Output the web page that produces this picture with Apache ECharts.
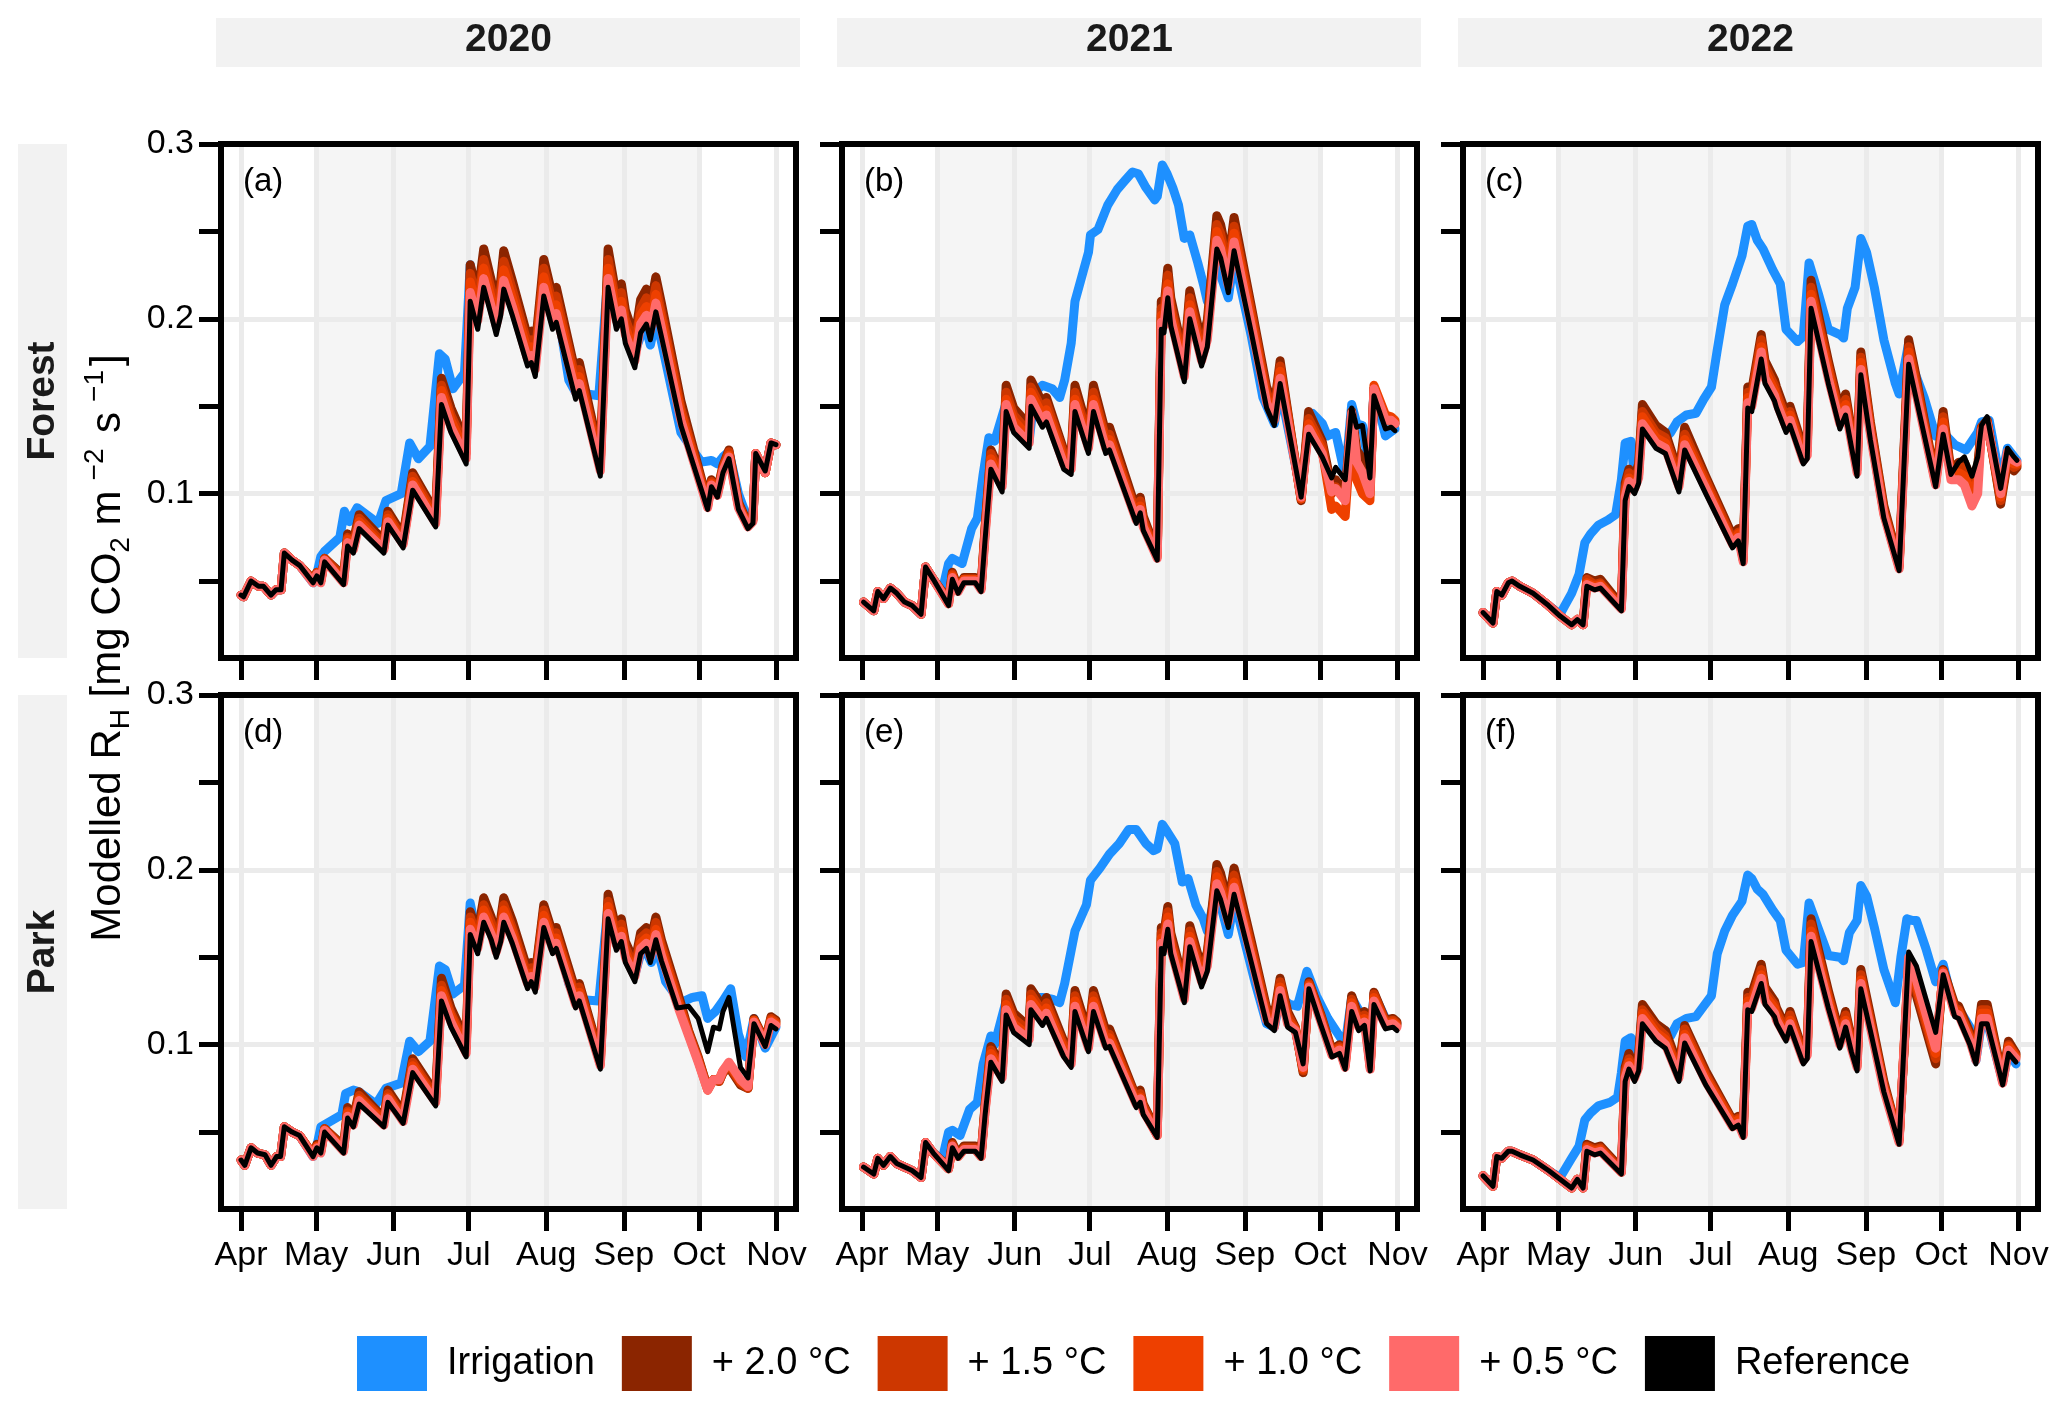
<!DOCTYPE html>
<html><head><meta charset="utf-8">
<script src="https://cdn.jsdelivr.net/npm/echarts/dist/echarts.min.js"></script>
<style>html,body{margin:0;padding:0;background:#fff}#c{width:2067px;height:1404px}</style>
</head><body><div id="c"></div>
<script>
// ---- axes / labels ----
const monthDays = [0,30,61,91,122,153,183,214];      // days after 1 April
const monthLabels = ['Apr','May','Jun','Jul','Aug','Sep','Oct','Nov'];
const yTicks = [0.05,0.1,0.15,0.2,0.25,0.3];
const yLabels = [0.1,0.2,0.3];
const yGrid = [0.1,0.2];
const shadeDays = [30,183];                           // May 1 .. Oct 1
const years = ['2020','2021','2022'];
const sites = ['Forest','Park'];
const panelTags = ['(a)','(b)','(c)','(d)','(e)','(f)'];
const seriesNames = ['Irrigation','+ 2.0 °C','+ 1.5 °C','+ 1.0 °C','+ 0.5 °C','Reference'];
const seriesColors = ['#1E90FF','#8B2500','#CD3700','#EE4000','#FF6A6A','#000000'];

// ---- (a) Forest 2020 ----
const aDays = [0,1,4,7,9,12,14,16,17.3,20.4,23.4,28.8,30.3,31.9,33.4,41,42.6,44.9,47.2,57.1,58.7,64.8,68.6,77.8,80.1,83.9,90,91.6,94.6,97,100,102,103.8,105,108.4,114.5,116,117.6,121,124.5,126,133.7,135.2,143.6,146.7,150,152,153.6,157.4,159.7,162,163.6,165.8,168,175.8,186.5,188,190.4,192.6,195,198.8,202.6,204.6,205.7,209.5,211.8,213.8];
const aRef = [.042,.041,.050,.047,.047,.042,.045,.045,.066,.062,.059,.049,.053,.049,.061,.048,.070,.066,.080,.066,.082,.069,.102,.081,.151,.135,.117,.210,.194,.218,.202,.191,.202,.217,.202,.173,.175,.167,.213,.194,.198,.154,.159,.110,.218,.194,.200,.186,.172,.192,.197,.188,.204,.190,.139,.091,.104,.098,.112,.120,.091,.080,.083,.123,.113,.129,.128];
const aW05 = [.042,.041,.050,.047,.047,.042,.045,.045,.066,.062,.059,.049,.054,.049,.062,.049,.072,.068,.082,.068,.084,.071,.105,.083,.155,.138,.120,.215,.199,.223,.207,.196,.207,.222,.207,.177,.179,.171,.218,.199,.203,.158,.163,.113,.223,.199,.205,.191,.176,.197,.202,.193,.209,.195,.142,.092,.105,.099,.113,.121,.092,.081,.084,.123,.112,.129,.128];
const aW10 = [.042,.041,.050,.047,.047,.042,.045,.045,.066,.062,.059,.050,.054,.050,.062,.050,.074,.069,.084,.069,.086,.072,.107,.085,.159,.142,.123,.221,.204,.229,.212,.201,.212,.228,.212,.182,.184,.175,.224,.204,.208,.162,.167,.116,.229,.204,.210,.195,.181,.202,.207,.197,.214,.200,.146,.093,.106,.100,.114,.122,.093,.082,.085,.123,.112,.129,.128];
const aW15 = [.042,.041,.050,.047,.047,.042,.045,.045,.066,.062,.059,.050,.055,.050,.063,.052,.075,.071,.086,.071,.088,.074,.110,.087,.162,.145,.126,.226,.209,.234,.217,.205,.217,.233,.217,.186,.188,.180,.229,.209,.213,.166,.171,.118,.234,.209,.215,.200,.185,.206,.212,.202,.219,.204,.149,.094,.107,.101,.115,.124,.094,.082,.085,.123,.112,.129,.128];
const aW20 = [.042,.041,.050,.047,.047,.042,.045,.045,.066,.062,.059,.051,.055,.051,.063,.053,.077,.073,.088,.073,.090,.076,.112,.089,.166,.149,.129,.231,.213,.240,.222,.210,.222,.239,.222,.190,.193,.184,.234,.213,.218,.169,.175,.121,.240,.213,.220,.205,.189,.211,.217,.207,.224,.209,.153,.095,.108,.102,.116,.125,.095,.083,.086,.123,.112,.129,.128];
const aIrrDays = [0,1,4,7,9,12,14,16,17.3,20.4,23.4,28.8,30.3,31.9,33.4,39.5,41.3,43.3,46.4,54.8,57.9,64,67.4,70.9,75.5,79.3,81.6,84.7,89.3,91.6,94.6,97,100,102,103.8,105,108.4,114.5,116,117.6,121,124.5,126,131,133.7,143,146.7,150,152,153.6,157.4,159.7,162,163.6,165.8,168,175.8,184,188,190.4,192.6,195,198.8,202.6,204.6,205.7,209.5,211.8,213.8];
const aIrr = [.042,.041,.050,.047,.047,.042,.045,.045,.066,.062,.059,.049,.054,.064,.067,.075,.090,.084,.092,.083,.096,.100,.129,.120,.127,.180,.177,.160,.169,.231,.206,.232,.215,.203,.215,.232,.215,.184,.186,.178,.226,.206,.210,.165,.158,.156,.226,.204,.210,.196,.181,.190,.194,.185,.200,.187,.135,.118,.119,.117,.121,.124,.100,.085,.086,.122,.113,.129,.128];

// ---- (b) Forest 2021 ----
const bDays = [0.6,4.7,6.3,8.6,11.3,13.9,17,20,23.6,25.4,28.5,34.6,36.1,38.4,40.7,45.3,47.6,49.2,51.5,56,57.6,60.6,66.8,67.5,72.1,73.7,80.6,83.6,85.1,90.5,92.5,97.4,98.9,109.6,111.2,112.4,118,119.6,120.7,122.2,123.4,128.8,131,135.7,138,141.8,143.3,146.4,148.7,155.6,161.7,164.8,167.1,175.5,178.5,183.9,187.7,189.3,193.1,195.7,197.7,200,203,204.6,209.2,211.5,213];
const bRef = [.038,.033,.044,.040,.046,.043,.038,.036,.031,.058,.051,.036,.051,.043,.049,.049,.044,.074,.114,.101,.147,.135,.126,.150,.138,.141,.114,.111,.147,.123,.147,.123,.125,.083,.089,.079,.062,.194,.192,.212,.196,.164,.200,.173,.184,.240,.235,.215,.239,.192,.149,.139,.163,.098,.134,.121,.109,.115,.108,.149,.138,.139,.109,.156,.137,.138,.136];
const bW05 = [.038,.033,.044,.040,.046,.043,.038,.036,.031,.058,.051,.037,.052,.044,.050,.050,.045,.076,.117,.104,.151,.138,.129,.154,.141,.145,.117,.114,.151,.126,.151,.126,.128,.085,.091,.081,.063,.198,.196,.216,.200,.167,.204,.176,.188,.245,.240,.219,.244,.196,.152,.142,.166,.098,.137,.123,.101,.103,.096,.146,.118,.112,.100,.160,.142,.142,.140];
const bW10 = [.038,.033,.044,.040,.046,.043,.038,.036,.031,.058,.051,.037,.053,.045,.051,.051,.046,.078,.120,.106,.154,.142,.132,.158,.145,.148,.120,.117,.154,.129,.154,.129,.131,.087,.093,.083,.064,.202,.200,.220,.204,.171,.208,.180,.191,.250,.244,.224,.249,.200,.155,.145,.170,.097,.140,.125,.091,.093,.087,.140,.108,.100,.096,.162,.145,.144,.142];
const bW15 = [.038,.033,.044,.040,.046,.043,.038,.036,.031,.058,.051,.038,.054,.045,.051,.051,.046,.080,.123,.109,.158,.145,.135,.161,.148,.152,.123,.119,.158,.132,.158,.132,.134,.089,.096,.085,.065,.206,.204,.225,.208,.174,.212,.183,.195,.254,.249,.228,.253,.204,.158,.147,.173,.097,.143,.128,.100,.104,.097,.145,.118,.112,.100,.160,.143,.143,.141];
const bW20 = [.038,.033,.044,.040,.046,.043,.038,.036,.031,.058,.051,.039,.055,.046,.052,.052,.047,.081,.125,.111,.162,.149,.139,.165,.152,.155,.125,.122,.162,.135,.162,.135,.138,.091,.098,.087,.066,.210,.207,.229,.212,.177,.216,.187,.199,.259,.254,.232,.258,.207,.161,.150,.176,.096,.147,.130,.104,.108,.101,.147,.125,.120,.104,.160,.142,.142,.140];
const bIrrDays = [0.6,4.7,6.3,8.6,11.3,13.9,17,20,23.6,25.4,28.5,32,34.6,36.1,40,43.8,46.1,48.4,50.7,53,57.6,60.6,66.8,69,72.1,76,79,81,83.6,85.1,90.5,91.3,94.3,98.2,102,105,108.1,110.4,113.5,117,118,120,121.9,124.2,126.5,128.8,131,134.2,136.4,138,141.8,143.3,146.4,148.7,155.6,160.2,164.8,167.1,175.5,178.5,180,184,186,189.3,193.1,195.7,197.7,200,203,204.6,209.2,213];
const bIrr = [.038,.033,.044,.040,.046,.043,.038,.036,.031,.058,.051,.044,.060,.063,.060,.080,.086,.111,.132,.130,.152,.140,.130,.158,.162,.160,.155,.165,.186,.210,.238,.248,.251,.265,.274,.279,.284,.283,.275,.268,.270,.288,.283,.275,.265,.246,.248,.232,.220,.210,.238,.225,.212,.235,.190,.155,.140,.160,.100,.140,.146,.140,.133,.135,.110,.151,.140,.139,.110,.160,.133,.137];

// ---- (c) Forest 2022 ----
const cDays = [0,4,5.5,7.5,10.1,11.6,14.7,20,26.2,30.8,35.4,37.7,40,41.5,44.6,46.9,55.3,56.8,58.3,60.6,62.2,63.7,69.1,72.9,78.3,80.6,89,99.7,102,104,105.8,107.4,111.2,112.7,116.5,117.3,121.1,122.7,128,129.6,131.1,138,142.6,144.9,147.2,149.5,151,154.8,160.2,166.3,170.1,172.4,180.9,183.9,187,190.1,192.4,195.4,197.7,199.2,201.5,206.9,209.6,212.2,213.4];
const cRef = [.032,.026,.044,.042,.049,.050,.047,.043,.036,.030,.025,.028,.025,.047,.045,.046,.033,.096,.104,.100,.106,.137,.126,.123,.101,.125,.100,.069,.073,.060,.149,.147,.177,.163,.153,.149,.135,.139,.117,.120,.206,.163,.137,.145,.127,.110,.168,.131,.086,.056,.174,.159,.104,.134,.111,.118,.121,.110,.121,.139,.144,.103,.126,.121,.119];
const cW05 = [.032,.026,.044,.042,.049,.050,.047,.043,.036,.030,.025,.028,.025,.048,.046,.047,.034,.098,.107,.103,.109,.140,.129,.126,.104,.128,.103,.071,.075,.061,.152,.150,.181,.166,.156,.152,.138,.142,.119,.122,.210,.166,.140,.148,.130,.112,.171,.134,.088,.057,.177,.162,.105,.137,.108,.108,.105,.093,.100,.136,.140,.100,.124,.119,.118];
const cW10 = [.032,.026,.044,.042,.049,.050,.047,.043,.036,.030,.025,.028,.025,.049,.047,.048,.035,.101,.109,.105,.111,.144,.132,.129,.106,.131,.105,.072,.077,.062,.155,.153,.184,.170,.159,.155,.140,.145,.122,.125,.214,.170,.142,.151,.132,.114,.175,.136,.089,.058,.181,.165,.106,.141,.110,.112,.110,.100,.108,.137,.141,.098,.122,.117,.117];
const cW15 = [.032,.026,.044,.042,.049,.050,.047,.043,.036,.030,.025,.028,.025,.051,.048,.049,.035,.103,.112,.108,.114,.147,.135,.132,.109,.134,.108,.074,.078,.063,.158,.156,.188,.173,.162,.158,.143,.147,.124,.127,.218,.173,.145,.154,.135,.117,.178,.139,.091,.059,.184,.169,.107,.144,.111,.115,.115,.105,.112,.138,.141,.096,.120,.115,.116];
const cW20 = [.032,.026,.044,.042,.049,.050,.047,.043,.036,.030,.025,.028,.025,.052,.050,.051,.036,.106,.114,.110,.117,.151,.139,.135,.111,.138,.110,.076,.080,.064,.161,.159,.191,.176,.165,.161,.146,.150,.126,.130,.222,.176,.148,.157,.137,.119,.181,.141,.093,.060,.188,.172,.108,.147,.113,.118,.118,.108,.116,.138,.142,.094,.118,.113,.115];
const cIrrDays = [0,4,5.5,7.5,10.1,11.6,14.7,20,26.2,30.8,32.3,35.4,38.4,40.7,43,46.1,50,53,55.3,56.8,59.1,60.6,62.2,63.7,69.1,72.9,75,77.5,81.3,85.1,88.2,91.3,93.6,96.6,99.7,103.5,105.8,107.4,109.6,111.9,115.8,118.8,121.1,125.7,128,130.3,134.1,138,142.6,144.1,145.6,148.7,151,153.3,156.4,160.2,164.8,166.3,170.1,172.4,176.3,180.9,183.9,188.5,193,197.7,199.2,202.3,206.9,209.6,213.4];
const cIrr = [.032,.026,.044,.042,.049,.050,.047,.043,.036,.031,.035,.043,.054,.072,.077,.082,.085,.088,.108,.129,.130,.108,.114,.147,.135,.132,.135,.141,.145,.146,.154,.161,.182,.208,.220,.236,.253,.254,.245,.240,.228,.220,.194,.187,.190,.232,.214,.194,.191,.189,.206,.218,.246,.238,.218,.188,.163,.157,.186,.170,.155,.133,.135,.128,.125,.135,.141,.142,.106,.126,.119];

// ---- (d) Park 2020 ----
const dDays = [0,1.5,4,6.6,9.6,12,14.2,15.8,17.3,20.4,23.4,28.8,30.3,31.9,33.4,41,42.6,44.9,47.2,57.1,58.7,64.8,68.6,77.8,80.1,83.9,90,91.6,94.6,97,100,102,103.8,105,108.4,114.5,116,117.6,121,124.5,126,133.7,135.2,143.6,146.7,150,152,153.6,157.4,159.7,162,163.6,165.8,168,174.3,178.9,182.7,186.5,188.8,191.1,192.6,195,199.6,202.6,205,209.5,211.8,213.8];
const dRef = [.034,.031,.041,.038,.037,.031,.036,.036,.053,.050,.048,.036,.041,.038,.050,.038,.058,.053,.066,.053,.067,.055,.084,.065,.125,.110,.093,.163,.152,.170,.160,.150,.159,.170,.158,.132,.136,.130,.167,.152,.155,.121,.125,.086,.172,.154,.159,.147,.136,.152,.155,.147,.160,.148,.121,.122,.115,.096,.110,.109,.119,.127,.087,.081,.112,.099,.111,.109];
const dW05 = [.034,.031,.041,.038,.037,.031,.036,.036,.053,.050,.048,.036,.041,.038,.051,.039,.059,.054,.068,.054,.069,.056,.086,.067,.128,.113,.095,.166,.155,.173,.163,.153,.162,.173,.161,.135,.139,.133,.170,.155,.158,.123,.128,.088,.175,.157,.162,.150,.139,.155,.158,.150,.163,.151,.123,.105,.090,.074,.080,.080,.085,.090,.080,.076,.113,.100,.113,.111];
const dW10 = [.034,.031,.041,.038,.037,.031,.036,.036,.053,.050,.048,.037,.042,.039,.051,.040,.061,.056,.069,.056,.070,.058,.088,.068,.131,.116,.098,.170,.158,.177,.166,.156,.165,.177,.164,.137,.141,.135,.174,.158,.161,.126,.130,.089,.179,.160,.165,.153,.141,.158,.161,.153,.166,.154,.126,.106,.091,.074,.080,.080,.085,.089,.079,.076,.114,.101,.114,.112];
const dW15 = [.034,.031,.041,.038,.037,.031,.036,.036,.053,.050,.048,.037,.042,.039,.052,.041,.062,.057,.071,.057,.072,.059,.090,.070,.134,.118,.100,.173,.161,.180,.170,.159,.169,.180,.167,.140,.144,.138,.177,.161,.164,.128,.133,.091,.182,.163,.169,.156,.144,.161,.164,.156,.170,.157,.128,.107,.092,.075,.080,.079,.084,.088,.078,.075,.114,.101,.115,.113];
const dW20 = [.034,.031,.041,.038,.037,.031,.036,.036,.053,.050,.048,.037,.043,.040,.052,.042,.064,.058,.073,.058,.074,.061,.092,.072,.138,.121,.102,.176,.164,.184,.173,.162,.172,.184,.171,.143,.147,.140,.180,.164,.167,.131,.135,.093,.186,.166,.172,.159,.147,.164,.167,.159,.173,.160,.131,.108,.093,.075,.080,.079,.084,.087,.077,.075,.115,.102,.116,.114];
const dIrrDays = [0,1.5,4,6.6,9.6,12,14.2,15.8,17.3,20.4,23.4,28.8,30.3,31.9,40.3,41.8,44.9,47.2,54,57.9,64,67.4,70.9,75.5,79.3,81.6,84.7,89.3,91.6,94.6,97,100,102,103.8,105,108.4,114.5,116,117.6,121,124.5,126,131,134,143,146.7,150,152,153.6,157.4,159.7,162,164,165.8,168,169.7,175.8,180.4,184.2,186.5,189.6,192.6,195.7,198.8,201.8,205,209.5,213.8];
const dIrr = [.034,.031,.041,.038,.037,.031,.036,.036,.053,.050,.048,.036,.042,.053,.060,.072,.074,.073,.066,.075,.078,.102,.096,.102,.145,.143,.129,.134,.181,.160,.180,.168,.158,.167,.180,.167,.140,.143,.137,.177,.160,.163,.135,.126,.125,.180,.160,.165,.153,.140,.152,.153,.147,.157,.146,.136,.124,.127,.128,.115,.119,.125,.132,.106,.093,.115,.098,.110];

// ---- (e) Park 2021 ----
const eDays = [0.6,4.7,6.3,8.6,11.3,13.9,17,20,23.6,25.4,28.5,34.6,36.1,38.4,40.7,45.3,47.6,49.2,51.5,56,57.6,60.6,66.8,67.5,72.1,73.7,80.6,83.6,85.1,90.5,92.5,97.4,98.9,109.6,111.2,112.4,118,119.6,120.7,122.2,123.4,128.8,131,135.7,138,141.8,143.3,146.4,148.7,155.6,161.7,164.8,167.1,170.1,173.2,176.3,178.6,183.2,187.8,190.8,193.1,195.7,198.5,200.8,203.1,204.6,209.2,212.2,213.8];
const eRef = [.030,.026,.035,.031,.036,.032,.030,.028,.024,.044,.038,.028,.041,.035,.039,.039,.035,.060,.090,.079,.117,.107,.100,.120,.111,.115,.093,.087,.119,.096,.119,.098,.099,.064,.067,.060,.047,.155,.152,.166,.152,.124,.156,.133,.142,.188,.183,.167,.186,.147,.112,.108,.128,.110,.107,.089,.132,.112,.093,.095,.086,.119,.108,.111,.085,.123,.109,.110,.108];
const eW05 = [.030,.026,.035,.031,.036,.032,.030,.028,.024,.044,.038,.029,.042,.036,.040,.040,.036,.062,.092,.081,.120,.110,.103,.123,.114,.118,.095,.089,.122,.098,.122,.100,.101,.066,.069,.062,.048,.158,.155,.169,.155,.126,.159,.136,.145,.192,.187,.170,.190,.150,.114,.110,.131,.112,.108,.087,.133,.114,.094,.097,.087,.122,.110,.113,.086,.125,.111,.112,.110];
const eW10 = [.030,.026,.035,.031,.036,.032,.030,.028,.024,.044,.038,.029,.042,.036,.040,.040,.036,.063,.095,.083,.123,.112,.105,.126,.117,.121,.098,.091,.125,.101,.125,.103,.104,.067,.070,.063,.048,.161,.158,.173,.158,.129,.162,.138,.148,.196,.190,.174,.193,.153,.116,.112,.133,.114,.109,.086,.134,.115,.095,.098,.088,.124,.112,.115,.087,.127,.112,.113,.111];
const eW15 = [.030,.026,.035,.031,.036,.032,.030,.028,.024,.044,.038,.029,.043,.037,.041,.041,.037,.065,.097,.085,.126,.115,.108,.129,.119,.124,.100,.094,.128,.103,.128,.105,.106,.069,.072,.065,.049,.164,.161,.176,.161,.131,.165,.141,.151,.199,.194,.177,.197,.156,.119,.114,.136,.117,.109,.085,.135,.117,.096,.099,.089,.126,.114,.117,.088,.129,.113,.114,.112];
const eW20 = [.030,.026,.035,.031,.036,.032,.030,.028,.024,.044,.038,.030,.044,.037,.042,.042,.037,.066,.099,.087,.129,.118,.110,.132,.122,.127,.102,.096,.131,.106,.131,.108,.109,.070,.074,.066,.050,.167,.164,.179,.164,.134,.168,.144,.153,.203,.198,.180,.201,.159,.121,.117,.138,.119,.110,.084,.136,.118,.097,.100,.090,.128,.116,.119,.089,.130,.114,.115,.113];
const eIrrDays = [0.6,4.7,6.3,8.6,11.3,13.9,17,20,23.6,25.4,28.5,32,34.6,36.1,39.2,43,46.1,48.4,51.5,53,57.6,60.6,66.8,67.5,70,72.1,76,79,81,83.6,85.1,89.7,91.3,95.1,98.9,102.8,106.6,109.6,113.5,116.5,118,120,121.9,125,128,130.3,133.4,136.4,138,141.8,143.3,146.4,148.7,157,161.7,164.8,167.1,171,174,177.8,181.6,186.2,190.8,193.1,195.7,200,203.1,204.6,209.2,213.8];
const eIrr = [.030,.026,.035,.031,.036,.032,.030,.028,.024,.044,.038,.034,.050,.051,.048,.063,.067,.089,.105,.100,.125,.115,.108,.128,.127,.127,.126,.124,.135,.154,.165,.180,.194,.201,.209,.215,.223,.223,.215,.211,.212,.226,.222,.215,.193,.195,.180,.172,.165,.190,.180,.163,.183,.136,.112,.110,.127,.123,.122,.142,.128,.115,.105,.100,.127,.116,.100,.129,.115,.112];

// ---- (f) Park 2022 ----
const fDays = [0,4,5.5,7.5,10.1,11.6,14.7,20,26.2,30.8,35.4,37.7,40,41.5,44.6,46.9,55.3,56.8,58.3,60.6,62.2,63.7,69.1,72.9,78.3,80.6,89,99.7,102,104,105.8,107.4,111.2,112.7,116.5,117.3,121.1,122.7,128,129.6,131.1,138,142.6,144.9,147.2,149.5,151,154.8,160.2,166.3,170.1,173.2,180.9,183.9,188.5,190.1,194.6,197,199.2,201.5,207.7,210,213];
const fRef = [.025,.019,.036,.035,.039,.039,.037,.034,.028,.023,.018,.023,.018,.039,.037,.038,.026,.079,.086,.079,.085,.112,.102,.098,.079,.101,.077,.052,.054,.047,.120,.119,.135,.123,.116,.112,.102,.110,.089,.092,.159,.121,.098,.110,.096,.085,.132,.108,.073,.043,.153,.145,.107,.140,.116,.115,.100,.089,.112,.112,.077,.095,.090];
const fW05 = [.025,.019,.036,.035,.039,.039,.037,.034,.028,.023,.018,.023,.018,.040,.038,.039,.027,.081,.088,.081,.087,.115,.105,.100,.081,.104,.079,.053,.055,.048,.122,.121,.138,.125,.118,.114,.104,.112,.091,.094,.162,.123,.100,.112,.098,.087,.135,.110,.074,.044,.150,.137,.098,.141,.118,.117,.102,.091,.115,.115,.078,.097,.092];
const fW10 = [.025,.019,.036,.035,.039,.039,.037,.034,.028,.023,.018,.023,.018,.041,.039,.040,.027,.083,.090,.083,.089,.118,.107,.103,.083,.106,.081,.055,.057,.049,.125,.124,.140,.128,.121,.116,.106,.114,.093,.096,.165,.126,.102,.114,.100,.088,.137,.112,.076,.045,.148,.134,.095,.142,.120,.119,.104,.093,.118,.118,.079,.099,.093];
const fW15 = [.025,.019,.036,.035,.039,.039,.037,.034,.028,.023,.018,.023,.018,.042,.040,.041,.028,.085,.092,.085,.091,.120,.110,.105,.085,.109,.083,.056,.058,.050,.127,.126,.143,.130,.123,.119,.108,.117,.094,.098,.169,.128,.104,.117,.102,.090,.140,.114,.077,.046,.146,.131,.092,.142,.121,.120,.105,.094,.120,.120,.080,.100,.094];
const fW20 = [.025,.019,.036,.035,.039,.039,.037,.034,.028,.023,.018,.023,.018,.043,.041,.042,.029,.087,.095,.087,.094,.123,.112,.108,.087,.111,.085,.057,.059,.051,.130,.129,.146,.133,.125,.121,.110,.119,.096,.099,.172,.131,.106,.119,.104,.092,.143,.117,.079,.046,.144,.128,.089,.143,.123,.122,.107,.096,.123,.123,.081,.102,.095];
const fIrrDays = [0,4,5.5,7.5,10.1,11.6,14.7,20,26.2,30.8,35.4,38.4,40.7,43,46.1,50.7,53.8,55.3,56.8,59.1,60.6,62.2,63.7,69.1,72.9,75,77.5,81.3,85.1,88.2,91.3,93.6,96.6,99.7,103.5,105.8,107.4,109.6,111.9,115.8,118.8,121.1,125.7,128,130.3,134.1,138,142.6,144.1,146.4,149.5,151,153.3,156.4,160.2,164.8,167,169.4,171.7,173.2,177,180.9,183.9,188.5,191.6,194.6,197,199.2,201.5,207.7,210,213];
const fIrr = [.025,.019,.036,.035,.039,.039,.037,.034,.028,.024,.035,.042,.057,.061,.065,.067,.070,.084,.102,.104,.087,.093,.121,.111,.108,.105,.112,.115,.116,.122,.128,.152,.165,.174,.182,.197,.195,.189,.186,.177,.171,.154,.146,.147,.181,.166,.151,.150,.148,.164,.171,.191,.185,.167,.143,.124,.150,.172,.171,.171,.155,.136,.146,.119,.117,.110,.091,.112,.113,.079,.096,.089];

// ---------------------------------------------------------------
const panels = [
  {days:aDays, ref:aRef, w05:aW05, w10:aW10, w15:aW15, w20:aW20, irrDays:aIrrDays, irr:aIrr},
  {days:bDays, ref:bRef, w05:bW05, w10:bW10, w15:bW15, w20:bW20, irrDays:bIrrDays, irr:bIrr},
  {days:cDays, ref:cRef, w05:cW05, w10:cW10, w15:cW15, w20:cW20, irrDays:cIrrDays, irr:cIrr},
  {days:dDays, ref:dRef, w05:dW05, w10:dW10, w15:dW15, w20:dW20, irrDays:dIrrDays, irr:dIrr},
  {days:eDays, ref:eRef, w05:eW05, w10:eW10, w15:eW15, w20:eW20, irrDays:eIrrDays, irr:eIrr},
  {days:fDays, ref:fRef, w05:fW05, w10:fW10, w15:fW15, w20:fW20, irrDays:fIrrDays, irr:fIrr}
];

const FONT = '"Liberation Sans", Arial, Helvetica, sans-serif';
const colLeft = [221, 842, 1463];
const plotW = 575;
const rowTop = [144, 695];
const plotH = 514;
const xMin = -8, xMax = 221.8, yMin = 0.006, yMax = 0.3;

const pts = (xs, ys) => xs.map((x, k) => [x, ys[k]]);
const grids = [], xAxes = [], yAxes = [], series = [], graphics = [];

for (let r = 0; r < 2; r++) {
  for (let c = 0; c < 3; c++) {
    const i = r * 3 + c;
    const p = panels[i];
    grids.push({left: colLeft[c], top: rowTop[r], width: plotW, height: plotH,
      show: true, borderColor: '#000', borderWidth: 6, backgroundColor: 'transparent',
      z: 10, containLabel: false, outerBoundsMode: 'none'});
    xAxes.push({gridIndex: i, type: 'value', min: xMin, max: xMax,
      axisLine: {show: true, onZero: false, lineStyle: {color: '#000', width: 6}},
      axisTick: {show: true, inside: false, length: 22, customValues: monthDays, lineStyle: {color: '#000', width: 5}},
      axisLabel: {show: r === 1, customValues: monthDays, margin: 30, fontSize: 34, color: '#000', fontFamily: FONT,
        formatter: v => monthLabels[monthDays.indexOf(Math.round(v))]},
      splitLine: {show: false}});
    yAxes.push({gridIndex: i, type: 'value', min: yMin, max: yMax,
      axisLine: {show: true, onZero: false, lineStyle: {color: '#000', width: 6}},
      axisTick: {show: true, inside: false, length: 22, customValues: yTicks, lineStyle: {color: '#000', width: 5}},
      axisLabel: {show: c === 0, customValues: yLabels, margin: 27, fontSize: 34, color: '#000', fontFamily: FONT,
        formatter: v => v.toFixed(1)},
      splitLine: {show: false}});
    const sets = [pts(p.irrDays, p.irr), pts(p.days, p.w20), pts(p.days, p.w15), pts(p.days, p.w10), pts(p.days, p.w05), pts(p.days, p.ref)];
    sets.forEach((d, k) => {
      const s = {type: 'line', name: seriesNames[k], xAxisIndex: i, yAxisIndex: i, data: d,
        symbol: 'none', showSymbol: false, silent: true, animation: false, z: 3 + k,
        lineStyle: {color: seriesColors[k], width: k === 5 ? 5 : 9, cap: 'round', join: 'round'},
        itemStyle: {color: seriesColors[k]}};
      if (k === 0) {
        s.markArea = {silent: true, z: 1, itemStyle: {color: '#f5f5f5'},
          data: [[{xAxis: shadeDays[0]}, {xAxis: shadeDays[1]}]]};
        s.markLine = {silent: true, z: 2, symbol: ['none', 'none'], label: {show: false}, animation: false,
          lineStyle: {color: '#ebebeb', width: 5, type: 'solid'},
          data: monthDays.map(v => ({xAxis: v})).concat(yGrid.map(v => ({yAxis: v})))};
      }
      series.push(s);
    });
    graphics.push({type: 'text', x: colLeft[c] + 22, y: rowTop[r] + 38, silent: true,
      style: {text: panelTags[i], fontSize: 33, fontFamily: FONT, fill: '#000', align: 'left', verticalAlign: 'middle'}});
  }
}
for (let c = 0; c < 3; c++) {
  graphics.push({type: 'rect', shape: {x: colLeft[c] - 5, y: 18, width: plotW + 9, height: 49}, style: {fill: '#f2f2f2'}, silent: true});
  graphics.push({type: 'text', x: colLeft[c] + plotW / 2, y: 40, silent: true,
    style: {text: years[c], fontSize: 39, fontWeight: 'bold', fontFamily: FONT, fill: '#1a1a1a', align: 'center', verticalAlign: 'middle'}});
}
for (let r = 0; r < 2; r++) {
  graphics.push({type: 'rect', shape: {x: 18, y: rowTop[r], width: 49, height: plotH}, style: {fill: '#f2f2f2'}, silent: true});
  graphics.push({type: 'text', x: 43, y: rowTop[r] + plotH / 2, rotation: Math.PI / 2, silent: true,
    style: {text: sites[r], fontSize: 39, fontWeight: 'bold', fontFamily: FONT, fill: '#1a1a1a', align: 'center', verticalAlign: 'middle'}});
}
graphics.push({type: 'text', x: 108, y: 648, rotation: Math.PI / 2, silent: true,
  style: {text: '{n|Modelled R}{s|H}{n| [mg CO}{s|2}{n| m}{p|−2}{n| s}{p|−1}{n|]}', align: 'center', verticalAlign: 'middle',
    fill: '#000', fontFamily: FONT,
    rich: {n: {fontSize: 42, fontFamily: FONT, fill: '#000', lineHeight: 54, verticalAlign: 'middle'},
           s: {fontSize: 28, fontFamily: FONT, fill: '#000', verticalAlign: 'bottom', lineHeight: 32},
           p: {fontSize: 28, fontFamily: FONT, fill: '#000', verticalAlign: 'top', lineHeight: 32, padding: [0, 4, 0, 10]}}}});

const chart = echarts.init(document.getElementById('c'), null, {renderer: 'canvas', width: 2067, height: 1404});
chart.setOption({
  animation: false,
  backgroundColor: '#ffffff',
  grid: grids, xAxis: xAxes, yAxis: yAxes, series: series,
  legend: {left: 357, top: 1336, orient: 'horizontal', icon: 'rect', itemWidth: 70, itemHeight: 55, itemGap: 27,
    padding: 0, selectedMode: false, data: seriesNames,
    textStyle: {fontSize: 38, color: '#000', fontFamily: FONT, padding: [0, 0, 0, 15]}},
  graphic: graphics
});
</script></body></html>
